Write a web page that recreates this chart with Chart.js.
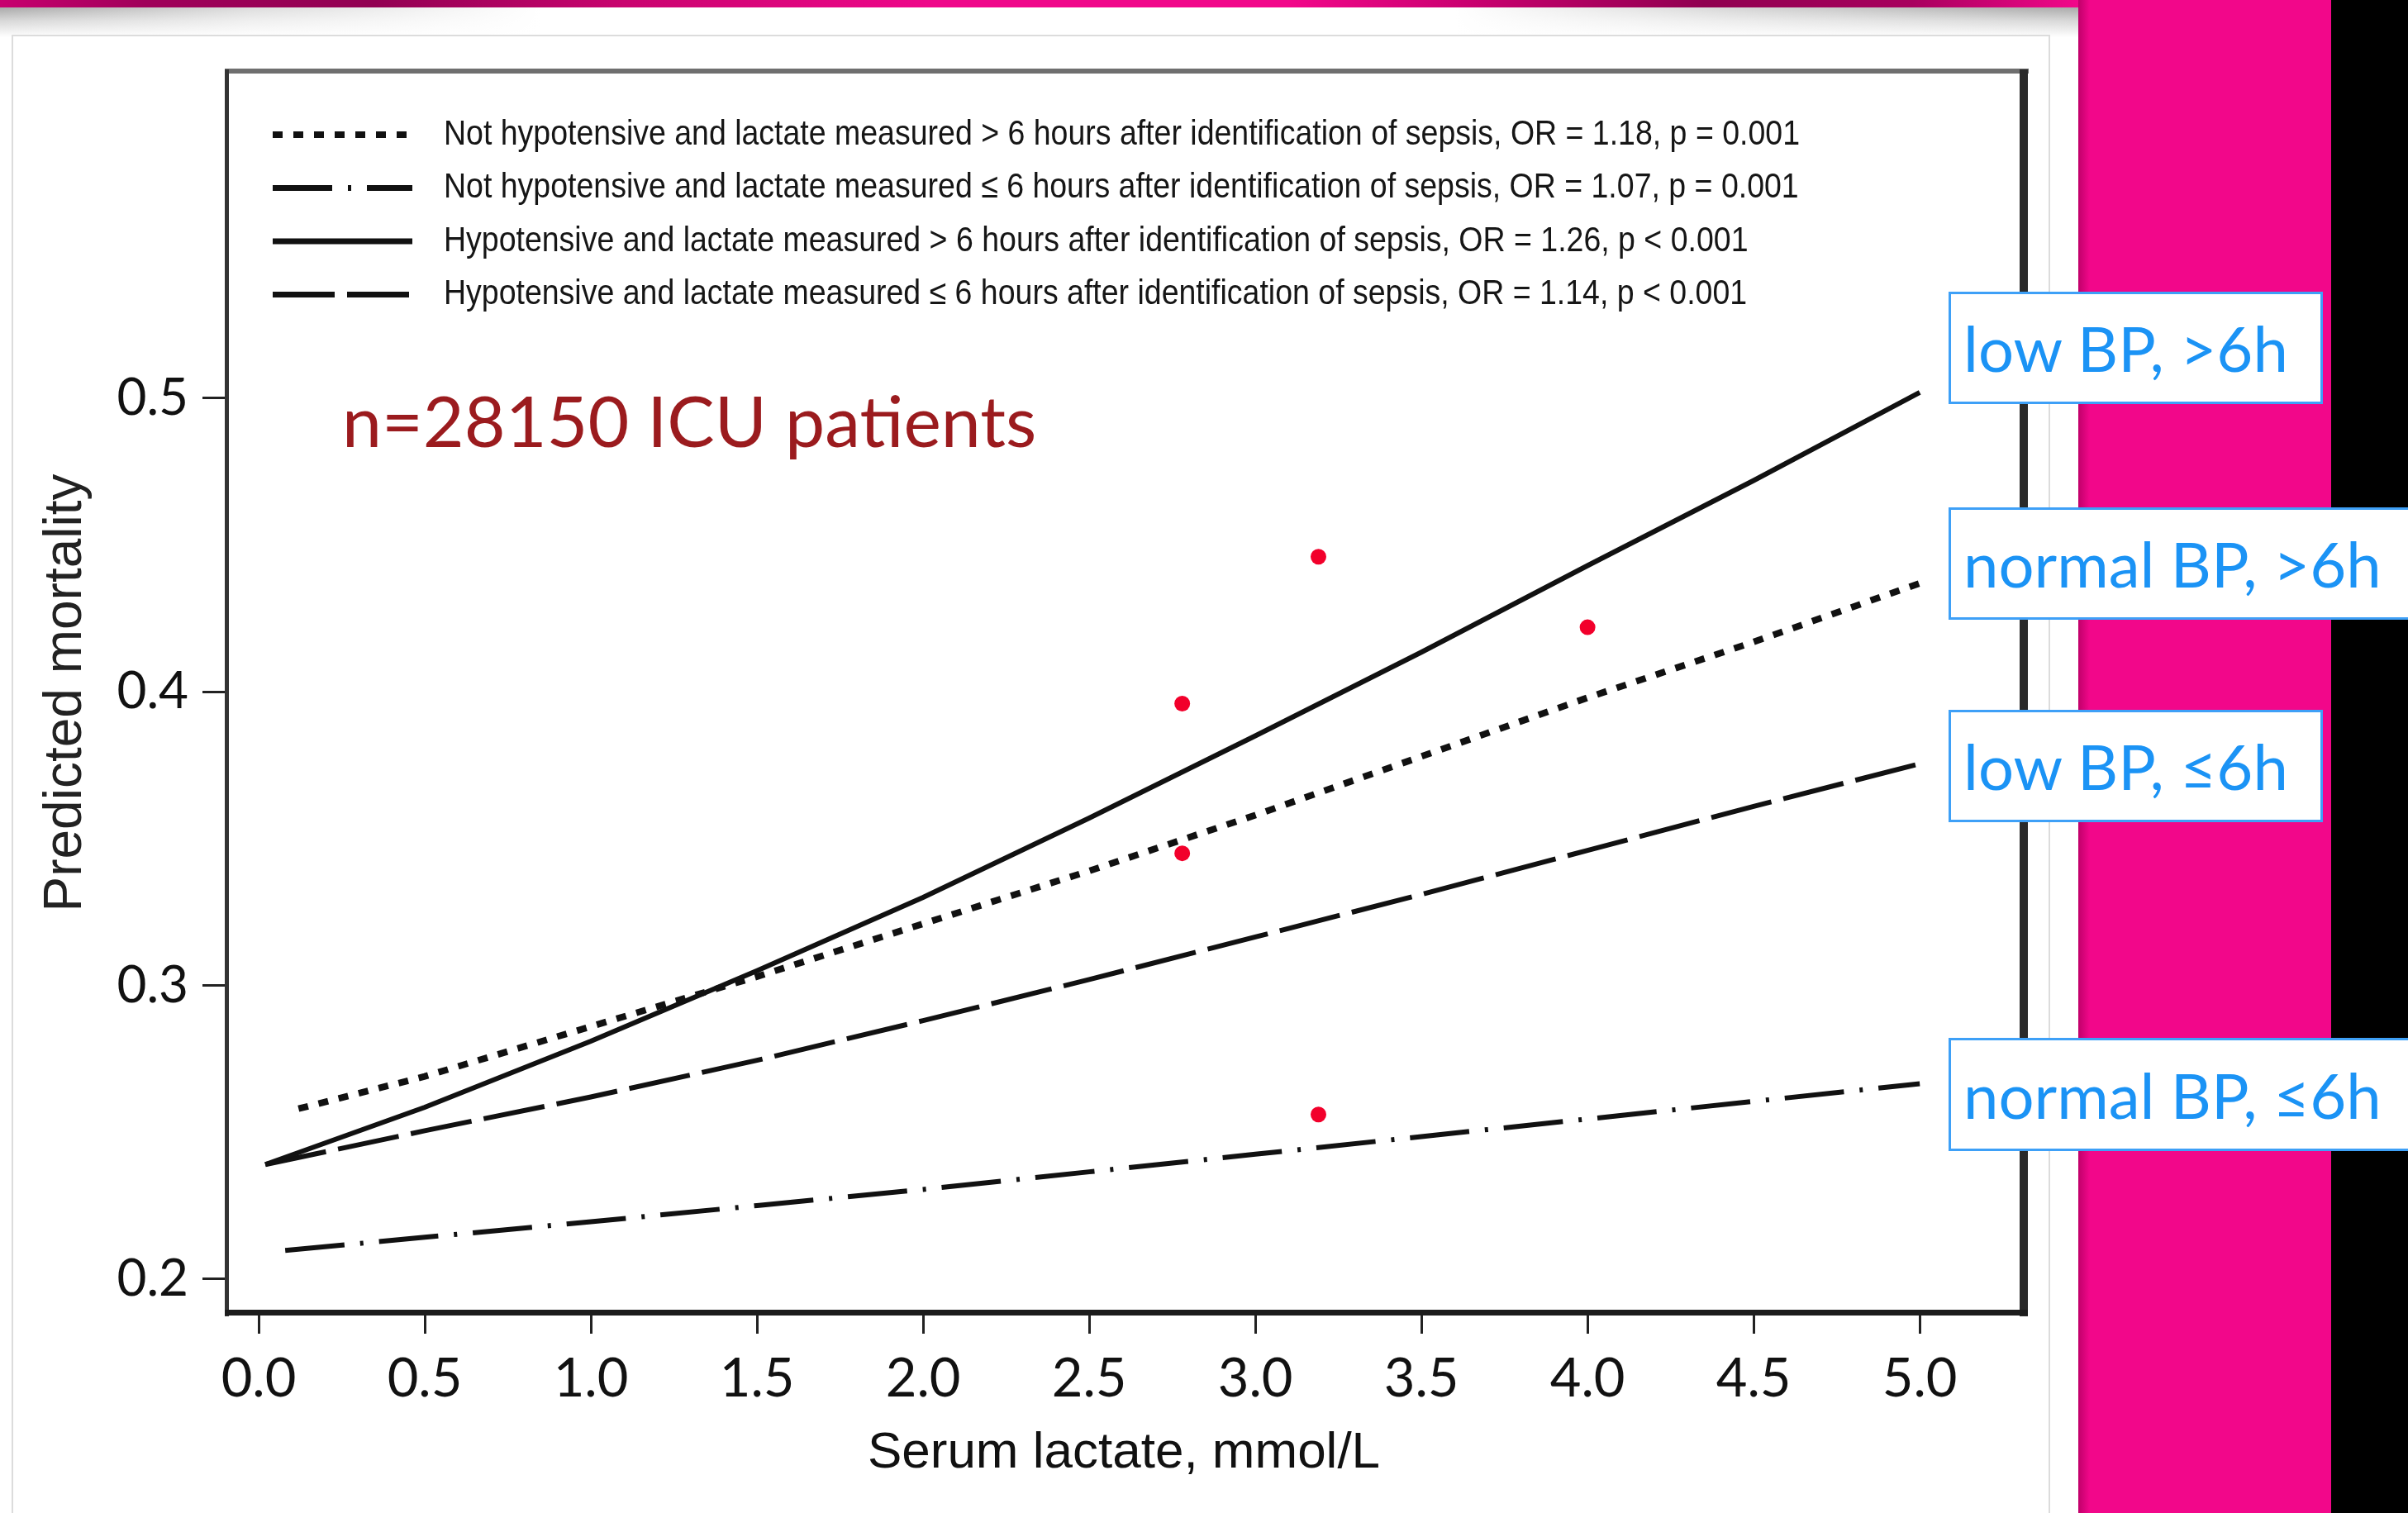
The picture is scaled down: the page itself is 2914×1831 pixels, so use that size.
<!DOCTYPE html>
<html>
<head>
<meta charset="utf-8">
<script src="https://cdn.jsdelivr.net/npm/chart.js@4.4.1/dist/chart.umd.min.js"></script>
<style>
  html, body { margin:0; padding:0; width:2914px; height:1831px; overflow:hidden; background:#fff; }
  .bg { position:absolute; }
  #topband { left:0; top:0; width:2515px; height:9px;
    background:linear-gradient(to right,#c8006f 0%,#a0005a 7%,#920052 18%,#c9046f 30%,#ef078a 45%,#f2078a 62%,#c3006c 72%,#900050 82%,#a8005e 92%,#f2078a 100%); }
  #shadow { left:0; top:9px; width:2515px; height:36px; background:linear-gradient(to bottom,#aaaaaa 0%,#d8d8d8 45%,#ffffff 100%); }
  #shadowmask { left:0; top:9px; width:2515px; height:36px;
    background:linear-gradient(to right,rgba(255,255,255,0) 0%,rgba(255,255,255,0.6) 12%,#fff 26%,#fff 70%,rgba(255,255,255,0.5) 84%,rgba(255,255,255,0) 100%); }
  #card { left:14px; top:42px; width:2467px; height:1800px; border:2px solid #dcdcdc; background:#fff; box-sizing:border-box; }
  #pinkcol { left:2515px; top:0; width:306px; height:1831px; background:linear-gradient(to right,#c0006a 0px,#f2078a 14px,#f2078a 100%); }
  #blackcol { left:2821px; top:0; width:93px; height:1831px; background:#000; }
  #chartCanvas { position:absolute; left:0; top:0; }
  #note { position:absolute; left:414px; top:456px; font-family:Lato, sans-serif; font-size:86px; line-height:1.2; color:#9b1b1e; white-space:nowrap; }
  .lbl { position:absolute; box-sizing:border-box; border:3px solid #3ea0f7; background:#fff; color:#1b93f5;
         font-family:Lato, sans-serif; font-size:76px; line-height:1.2; display:flex; align-items:center; padding-left:15px; white-space:nowrap; }
</style>
</head>
<body>
<div class="bg" id="topband"></div>
<div class="bg" id="shadow"></div>
<div class="bg" id="shadowmask"></div>
<div class="bg" id="card"></div>
<div class="bg" id="pinkcol"></div>
<div class="bg" id="blackcol"></div>
<canvas id="chartCanvas" width="2914" height="1831"></canvas>
<div id="note">n=28150 ICU patients</div>
<div class="lbl" style="left:2358px; top:353px; width:453px; height:136px;">low BP, &gt;6h</div>
<div class="lbl" style="left:2358px; top:614px; width:700px; height:136px;">normal BP, &gt;6h</div>
<div class="lbl" style="left:2358px; top:859px; width:453px; height:136px;">low BP, ≤6h</div>
<div class="lbl" style="left:2358px; top:1256px; width:700px; height:137px;">normal BP, ≤6h</div>
<script>
// ---------- data ----------
const xTickValues = [0, 0.5, 1, 1.5, 2, 2.5, 3, 3.5, 4, 4.5, 5];
const xTickLabels = ['0.0','0.5','1.0','1.5','2.0','2.5','3.0','3.5','4.0','4.5','5.0'];
const yTickValues = [0.2, 0.3, 0.4, 0.5];
const yTickLabels = ['0.2','0.3','0.4','0.5'];

const seriesLabels = [
  'Not hypotensive and lactate measured > 6 hours after identification of sepsis, OR = 1.18, p = 0.001',
  'Not hypotensive and lactate measured ≤ 6 hours after identification of sepsis, OR = 1.07, p = 0.001',
  'Hypotensive and lactate measured > 6 hours after identification of sepsis, OR = 1.26, p < 0.001',
  'Hypotensive and lactate measured ≤ 6 hours after identification of sepsis, OR = 1.14, p < 0.001'
];

// Not hypotensive, > 6 h (dotted)
const lactateNotHypoLate = [0.12, 0.5, 1.0, 1.5, 2.0, 2.5, 3.0, 3.5, 4.0, 4.5, 5.0];
const mortalityNotHypoLate = [0.258, 0.269, 0.286, 0.303, 0.321, 0.339, 0.358, 0.378, 0.398, 0.417, 0.437];
// Not hypotensive, <= 6 h (dash-dot)
const lactateNotHypoEarly = [0.08, 0.5, 1.0, 1.5, 2.0, 2.5, 3.0, 3.5, 4.0, 4.5, 5.0];
const mortalityNotHypoEarly = [0.2097, 0.2142, 0.2195, 0.225, 0.2305, 0.2365, 0.2425, 0.2485, 0.2545, 0.2605, 0.2665];
// Hypotensive, > 6 h (solid)
const lactateHypoLate = [0.02, 0.5, 1.0, 1.5, 2.0, 2.5, 3.0, 3.5, 4.0, 4.5, 5.0];
const mortalityHypoLate = [0.239, 0.2585, 0.281, 0.305, 0.330, 0.357, 0.385, 0.4135, 0.443, 0.472, 0.502];
// Hypotensive, <= 6 h (long dash)
const lactateHypoEarly = [0.02, 0.5, 1.0, 1.5, 2.0, 2.5, 3.0, 3.5, 4.0, 4.5, 5.0];
const mortalityHypoEarly = [0.239, 0.2505, 0.262, 0.2745, 0.288, 0.302, 0.3165, 0.331, 0.346, 0.361, 0.3755];

// red marker points
const markerLactate = [2.78, 3.19, 4.0, 2.78, 3.19];
const markerMortality = [0.396, 0.446, 0.422, 0.345, 0.256];

// ---------- helpers ----------
const pts = (xs, ys) => xs.map((x, i) => ({x: x, y: ys[i]}));

const framePlugin = {
  id: 'frame',
  afterDraw(chart) {
    const {ctx, chartArea: a} = chart;
    ctx.save();
    ctx.fillStyle = '#6f6f6f';
    ctx.fillRect(a.left - 1, a.top - 5, a.right - a.left + 9, 6);
    ctx.fillStyle = '#333';
    ctx.fillRect(a.left - 1, a.top - 4, 5, a.bottom - a.top + 8);
    ctx.fillStyle = '#2a2a2a';
    ctx.fillRect(a.right - 3, a.top - 4, 10, a.bottom - a.top + 8);
    ctx.fillStyle = '#1c1c1c';
    ctx.fillRect(a.left - 1, a.bottom - 4, a.right - a.left + 8, 7);
    ctx.restore();
  }
};

const legendPlugin = {
  id: 'insideLegend',
  afterDraw(chart) {
    const {ctx, chartArea: a} = chart;
    const items = chart.data.datasets.filter(d => d.inLegend);
    ctx.save();
    ctx.font = '42px "Liberation Sans", Arial, sans-serif';
    const sx = 1641 / ctx.measureText(items[0].label).width;
    items.forEach((d, i) => {
      const y = a.top + 75 + i * 64.5;
      ctx.strokeStyle = '#111';
      ctx.lineWidth = d.legendLineWidth;
      ctx.lineCap = 'butt';
      ctx.setLineDash(d.borderDash || []);
      ctx.beginPath();
      ctx.moveTo(a.left + 57, y);
      ctx.lineTo(a.left + 226, y);
      ctx.stroke();
      ctx.setLineDash([]);
      ctx.save();
      ctx.translate(a.left + 264, y);
      ctx.scale(sx, 1);
      ctx.textBaseline = 'middle';
      ctx.textAlign = 'left';
      ctx.fillStyle = '#161616';
      ctx.fillText(d.label, 0, 0);
      ctx.restore();
    });
    ctx.restore();
  }
};

Chart.defaults.font.family = 'Lato, sans-serif';

new Chart(document.getElementById('chartCanvas'), {
  type: 'line',
  data: {
    datasets: [
      { label: seriesLabels[0], data: pts(lactateNotHypoLate, mortalityNotHypoLate), inLegend: true,
        borderColor: '#111', borderWidth: 8, borderDash: [12, 13], legendLineWidth: 8, pointRadius: 0, tension: 0, fill: false },
      { label: seriesLabels[1], data: pts(lactateNotHypoEarly, mortalityNotHypoEarly), inLegend: true,
        borderColor: '#111', borderWidth: 6, borderDash: [72, 19, 4, 19], legendLineWidth: 7, pointRadius: 0, tension: 0, fill: false },
      { label: seriesLabels[2], data: pts(lactateHypoLate, mortalityHypoLate), inLegend: true,
        borderColor: '#111', borderWidth: 6, borderDash: [], legendLineWidth: 7, pointRadius: 0, tension: 0, fill: false },
      { label: seriesLabels[3], data: pts(lactateHypoEarly, mortalityHypoEarly), inLegend: true,
        borderColor: '#111', borderWidth: 6, borderDash: [75, 15], legendLineWidth: 7, pointRadius: 0, tension: 0, fill: false },
      { type: 'scatter', label: 'markers', data: pts(markerLactate, markerMortality), inLegend: false,
        backgroundColor: '#f2002b', borderColor: '#f2002b', borderWidth: 0, pointRadius: 9.5, showLine: false }
    ]
  },
  options: {
    responsive: false,
    animation: false,
    devicePixelRatio: 1,
    layout: { padding: { left: 0, top: 88, right: 467, bottom: 0 } },
    plugins: { legend: { display: false }, tooltip: { enabled: false } },
    scales: {
      x: {
        type: 'linear', min: -0.0995, max: 5.308,
        afterBuildTicks: s => { s.ticks = xTickValues.map(v => ({ value: v })); },
        afterFit: s => { s.height = 242; },
        border: { display: false },
        grid: { drawOnChartArea: false, drawTicks: true, tickLength: 25, tickWidth: 3, tickColor: '#222' },
        ticks: { autoSkip: false, maxRotation: 0, padding: 16, color: '#111',
                 font: { family: 'Lato, sans-serif', size: 65 },
                 callback: (v, i) => xTickLabels[i] },
        title: { display: true, text: 'Serum lactate, mmol/L', color: '#111',
                 font: { family: '"Liberation Sans", Arial, sans-serif', size: 62 },
                 padding: { top: 0, bottom: 35 } }
      },
      y: {
        type: 'linear', min: 0.1884, max: 0.6109,
        afterBuildTicks: s => { s.ticks = yTickValues.map(v => ({ value: v })); },
        afterFit: s => { s.width = 273; },
        border: { display: false },
        grid: { drawOnChartArea: false, drawTicks: true, tickLength: 28, tickWidth: 3, tickColor: '#222' },
        ticks: { autoSkip: false, padding: 17, color: '#111',
                 font: { family: 'Lato, sans-serif', size: 62 },
                 callback: (v, i) => yTickLabels[i] },
        title: { display: true, text: 'Predicted mortality', color: '#222',
                 font: { family: '"Liberation Sans", Arial, sans-serif', size: 64 },
                 padding: { top: 42, bottom: 0 } }
      }
    }
  },
  plugins: [framePlugin, legendPlugin]
});
</script>
</body>
</html>
